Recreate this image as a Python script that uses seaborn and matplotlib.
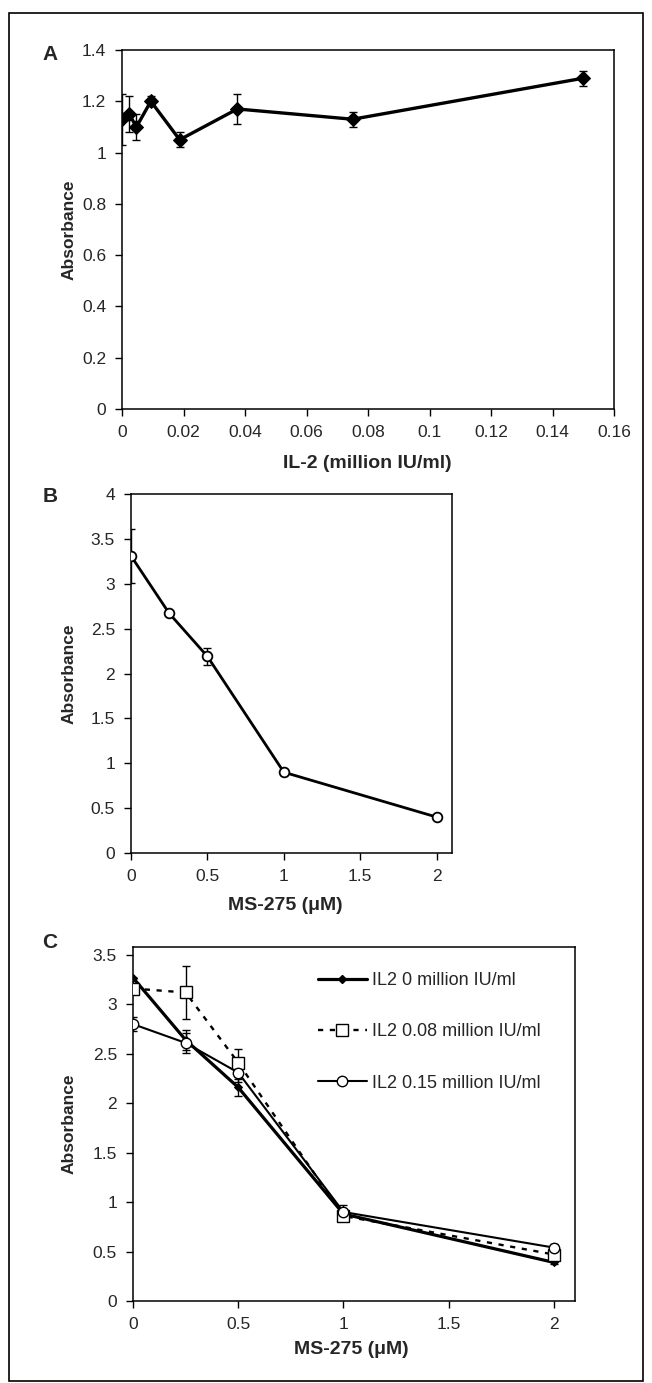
import matplotlib
matplotlib.use("Agg")
import matplotlib.pyplot as plt
import seaborn as sns
import pandas as pd
from matplotlib.lines import Line2D
from matplotlib.patches import Rectangle

# ---------------- data ----------------
# Panel A
il2_conc = [0.0, 0.00234, 0.00469, 0.00938, 0.01875, 0.0375, 0.075, 0.15]
il2_abs = [1.13, 1.15, 1.10, 1.20, 1.05, 1.17, 1.13, 1.29]
il2_err = [0.10, 0.07, 0.05, 0.02, 0.03, 0.06, 0.03, 0.03]

# Panel B
ms_conc = [0, 0.25, 0.5, 1, 2]
ms_abs = [3.31, 2.67, 2.19, 0.90, 0.40]
ms_err = [0.30, 0.02, 0.09, 0.03, 0.02]

# Panel C
c_conc = [0, 0.25, 0.5, 1, 2]
c_il2_0 = [3.27, 2.64, 2.16, 0.88, 0.39]
c_il2_0_err = [0.0, 0.10, 0.09, 0.03, 0.02]
c_il2_008 = [3.16, 3.12, 2.41, 0.86, 0.47]
c_il2_008_err = [0.04, 0.27, 0.14, 0.05, 0.05]
c_il2_015 = [2.80, 2.61, 2.31, 0.90, 0.54]
c_il2_015_err = [0.07, 0.10, 0.10, 0.07, 0.04]
legend_labels = ["IL2 0 million IU/ml", "IL2 0.08 million IU/ml", "IL2 0.15 million IU/ml"]

a_yticks = [0, 0.2, 0.4, 0.6, 0.8, 1, 1.2, 1.4]
a_xticks = [0, 0.02, 0.04, 0.06, 0.08, 0.1, 0.12, 0.14, 0.16]
b_yticks = [0, 0.5, 1, 1.5, 2, 2.5, 3, 3.5, 4]
c_yticks = [0, 0.5, 1, 1.5, 2, 2.5, 3, 3.5]
bc_xticks = [0, 0.5, 1, 1.5, 2]

# ---------------- style ----------------
sns.set_style("ticks")
plt.rcParams["font.family"] = ["Liberation Sans", "DejaVu Sans"]
plt.rcParams["xtick.direction"] = "out"
plt.rcParams["ytick.direction"] = "out"

W, H = 652, 1383
fig = plt.figure(figsize=(W / 100, H / 100), dpi=100)

TICK_FS = 12.5
YLAB_FS = 12.5
XLAB_FS = 14


def add_ax(left, top, right, bottom):
    return fig.add_axes([left / W, 1 - bottom / H, (right - left) / W, (bottom - top) / H])


def fmt(v):
    return f"{v:g}"


def style_axes(ax, xticks, yticks, xlim, ylim):
    ax.set_xlim(*xlim)
    ax.set_ylim(*ylim)
    ax.set_xticks(xticks)
    ax.set_yticks(yticks)
    ax.set_xticklabels([fmt(v) for v in xticks], fontsize=TICK_FS)
    ax.set_yticklabels([fmt(v) for v in yticks], fontsize=TICK_FS)
    for sp in ax.spines.values():
        sp.set_visible(True)
        sp.set_linewidth(1.1)
        sp.set_color("black")
    ax.tick_params(length=5, width=1, color="black", pad=6.5)
    ax.set_facecolor("white")


def place_labels(ax, box, xlab_center, xlab_y, ylab_x):
    # box = (left, top, right, bottom) in pixels; label centres in pixels
    l, t, r, b = box
    ax.xaxis.set_label_coords((xlab_center - l) / (r - l), -(xlab_y - b) / (b - t))
    ax.xaxis.label.set_va("center")
    ax.yaxis.set_label_coords(-(l - ylab_x) / (r - l), 0.5)
    ax.yaxis.label.set_va("center")


ERR_KW = dict(fmt="none", ecolor="black", elinewidth=1, capsize=3, capthick=1, zorder=2)

# ---------------- Panel A ----------------
boxA = (122, 50, 614, 409)
axA = add_ax(*boxA)
dfA = pd.DataFrame({"x": il2_conc, "y": il2_abs})
axA.errorbar(il2_conc, il2_abs, yerr=il2_err, **ERR_KW)
sns.lineplot(data=dfA, x="x", y="y", ax=axA, color="black", lw=2.4, marker="D",
             markersize=7, markerfacecolor="black", markeredgecolor="black",
             sort=False, zorder=3)
style_axes(axA, a_xticks, a_yticks, (0, 0.16), (0, 1.4))
axA.set_xlabel("IL-2 (million IU/ml)", fontsize=XLAB_FS, fontweight="bold")
axA.set_ylabel("Absorbance", fontsize=YLAB_FS, fontweight="bold")
place_labels(axA, boxA, 367, 463, 69)

# ---------------- Panel B ----------------
boxB = (131, 494, 452, 853)
axB = add_ax(*boxB)
dfB = pd.DataFrame({"x": ms_conc, "y": ms_abs})
axB.errorbar(ms_conc, ms_abs, yerr=ms_err, **ERR_KW)
sns.lineplot(data=dfB, x="x", y="y", ax=axB, color="black", lw=2.0, marker="o",
             markersize=7, markerfacecolor="white", markeredgecolor="black",
             markeredgewidth=1.3, sort=False, zorder=3)
style_axes(axB, bc_xticks, b_yticks, (0, 2.1), (0, 4))
axB.set_xlabel("MS-275 (\u03bcM)", fontsize=XLAB_FS, fontweight="bold")
axB.set_ylabel("Absorbance", fontsize=YLAB_FS, fontweight="bold")
place_labels(axB, boxB, 285, 905, 69)

# ---------------- Panel C ----------------
boxC = (133, 947, 575, 1301)
axC = add_ax(*boxC)
series = [
    (c_il2_0, c_il2_0_err, dict(color="black", lw=2.3, marker="D", markersize=4,
                                 markerfacecolor="black", markeredgecolor="black",
                                 linestyle="-")),
    (c_il2_008, c_il2_008_err, dict(color="black", lw=1.7, marker="s", markersize=8.5,
                                     markerfacecolor="white", markeredgecolor="black",
                                     markeredgewidth=1.0, linestyle=(0, (2.2, 2.8)))),
    (c_il2_015, c_il2_015_err, dict(color="black", lw=1.5, marker="o", markersize=7.5,
                                     markerfacecolor="white", markeredgecolor="black",
                                     markeredgewidth=1.0, linestyle="-")),
]
handles = []
for i, (vals, errs, kw) in enumerate(series):
    axC.errorbar(c_conc, vals, yerr=errs, **ERR_KW)
    dfC = pd.DataFrame({"x": c_conc, "y": vals})
    sns.lineplot(data=dfC, x="x", y="y", ax=axC, sort=False, zorder=3 + i, **kw)
    handles.append(Line2D([0], [0], **kw))
style_axes(axC, bc_xticks, c_yticks, (0, 2.1), (0, 3.58))
axC.set_xlabel("MS-275 (\u03bcM)", fontsize=XLAB_FS, fontweight="bold")
axC.set_ylabel("Absorbance", fontsize=YLAB_FS, fontweight="bold")
place_labels(axC, boxC, 351, 1350, 69)

leg = axC.legend(handles, legend_labels, loc="upper left",
                 bbox_to_anchor=(318 / W, 1 - 972 / H), bbox_transform=fig.transFigure,
                 frameon=False, fontsize=13, handlelength=2.7, handletextpad=0.3,
                 labelspacing=1.9, borderpad=0, borderaxespad=0)

# ---------------- panel letters and frame ----------------
for letter, y in [("A", 55), ("B", 497), ("C", 942)]:
    fig.text(50 / W, 1 - y / H, letter, fontsize=15, fontweight="bold",
             ha="center", va="center")

fig.add_artist(Rectangle((9 / W, 1 - 1381 / H), (643 - 9) / W, (1381 - 13) / H,
                         transform=fig.transFigure, fill=False, lw=1.2, ec="black"))

fig.savefig("out.png", dpi=100, facecolor="white")
